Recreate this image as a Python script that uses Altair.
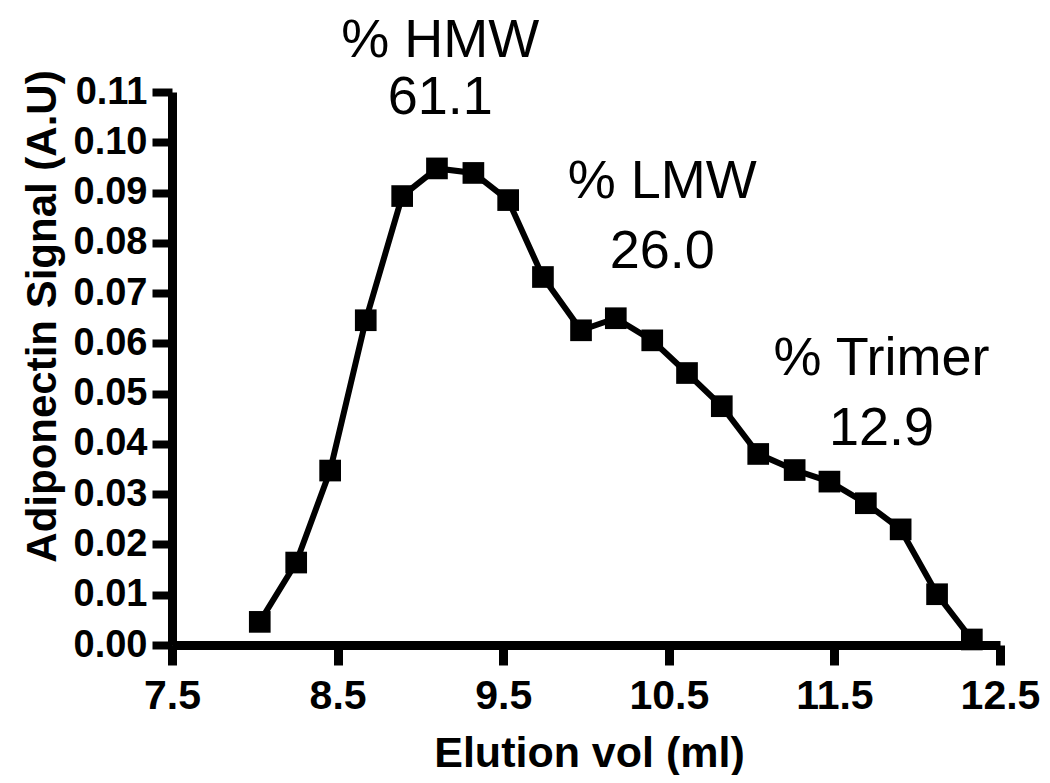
import altair as alt
import pandas as pd

# Elution volume (ml) and adiponectin signal (A.U.)
elution_vol = [8.03, 8.25, 8.455, 8.67, 8.89, 9.10, 9.32, 9.53, 9.74, 9.97, 10.18,
               10.40, 10.61, 10.82, 11.04, 11.26, 11.47, 11.69, 11.90, 12.12, 12.33]
signal = [0.0046, 0.0164, 0.0347, 0.0646, 0.0893, 0.0948, 0.0939, 0.0885, 0.0732,
          0.0626, 0.0650, 0.0606, 0.0541, 0.0475, 0.0380, 0.0348, 0.0325, 0.0282,
          0.0230, 0.0101, 0.0011]

# Annotations (data coordinates)
ann_text = ["% HMW", "61.1", "% LMW", "26.0", "% Trimer", "12.9"]
ann_x = [9.12, 9.12, 10.46, 10.46, 11.785, 11.785]
ann_y = [0.1170, 0.1057, 0.0889, 0.0750, 0.0537, 0.0398]

x_ticks = [7.5, 8.5, 9.5, 10.5, 11.5, 12.5]
y_ticks = [0.00, 0.01, 0.02, 0.03, 0.04, 0.05, 0.06, 0.07, 0.08, 0.09, 0.10, 0.11]

df = pd.DataFrame({"x": elution_vol, "y": signal})
ann = pd.DataFrame({"t": ann_text, "x": ann_x, "y": ann_y})

FONT = "Liberation Sans"

x_enc = alt.X(
    "x:Q",
    scale=alt.Scale(domain=[7.5, 12.5], nice=False, zero=False),
    axis=alt.Axis(
        values=x_ticks, format=".1f", title="Elution vol (ml)",
        grid=False, domainColor="black", domainWidth=9, tickColor="black",
        tickWidth=9, tickSize=20, labelFont=FONT, labelFontWeight="bold",
        labelFontSize=41, labelColor="black", labelPadding=43,
        labelBaseline="alphabetic", labelFlush=False, labelOverlap=False,
        titleFont=FONT, titleFontWeight="bold", titleFontSize=43,
        titleColor="black", titleY=121, titleX=417, titleBaseline="alphabetic",
        titleAlign="center",
    ),
)
y_enc = alt.Y(
    "y:Q",
    scale=alt.Scale(domain=[0, 0.11], nice=False),
    axis=alt.Axis(
        values=y_ticks, format=".2f", title="Adiponectin Signal (A.U)",
        grid=False, domainColor="black", domainWidth=9, tickColor="black",
        tickWidth=8, tickSize=20, labelFont=FONT, labelFontWeight="bold",
        labelFontSize=38, labelColor="black", labelPadding=5,
        labelBaseline="middle", labelFlush=False, labelOverlap=False,
        titleFont=FONT, titleFontWeight="bold", titleFontSize=42,
        titleColor="black", titleX=-130, titleY=224, titleAngle=270,
        titleAlign="center", titleBaseline="middle",
    ),
)

line = alt.Chart(df).mark_line(color="black", strokeWidth=6).encode(x=x_enc, y=y_enc)
pts = alt.Chart(df).mark_point(shape="square", filled=True, color="black",
                               size=470, opacity=1).encode(x="x:Q", y="y:Q")
txt = alt.Chart(ann).mark_text(font=FONT, fontSize=54, color="black",
                               align="center", baseline="alphabetic").encode(
    x="x:Q", y="y:Q", text="t:N")

chart = alt.layer(line, pts, txt).properties(
    width=828, height=553,
    background="white",
    autosize=alt.AutoSizeParams(type="none"),
    padding={"left": 164, "top": 84, "right": 42, "bottom": 130},
).configure_view(strokeWidth=0, stroke="transparent")

chart.save("out.html", embed_options={"renderer": "svg", "actions": False})
